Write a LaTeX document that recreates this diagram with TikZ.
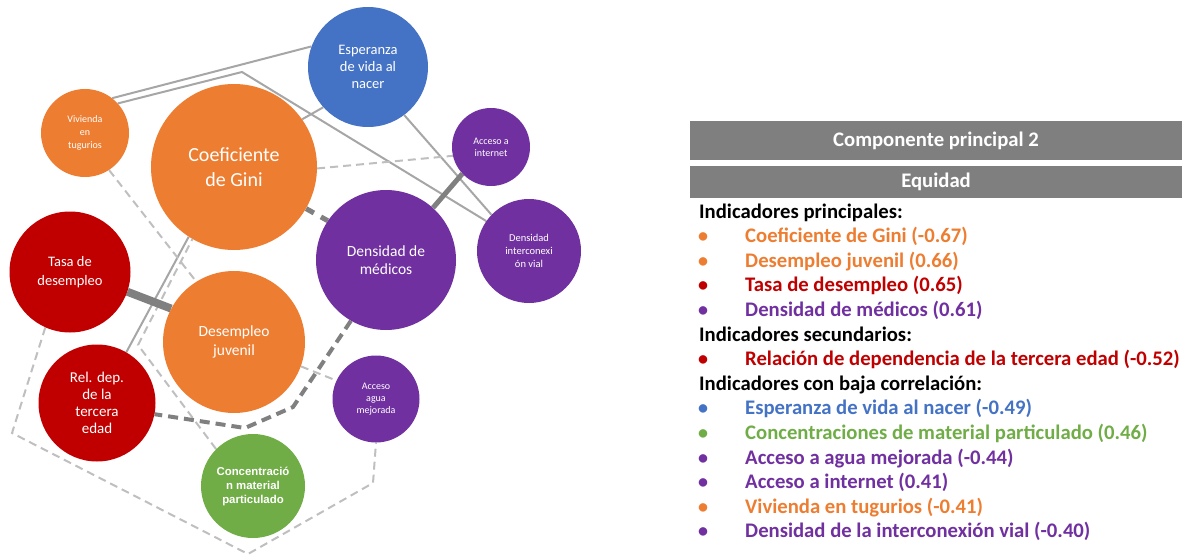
\documentclass[tikz,border=0pt]{standalone}
\usepackage{fontspec}
\setmainfont{Carlito}
\newfontfamily\arialfont{Liberation Sans}
\usetikzlibrary{backgrounds}
\definecolor{corange}{HTML}{ED7D31}
\definecolor{cblue}{HTML}{4472C4}
\definecolor{cpurple}{HTML}{7030A0}
\definecolor{cred}{HTML}{C00000}
\definecolor{cgreen}{HTML}{70AD47}
\definecolor{lsolid}{HTML}{A6A6A6}
\definecolor{ldash}{HTML}{BFBFBF}
\definecolor{dgrey}{HTML}{808080}
\definecolor{hdrgrey}{HTML}{7F7F7F}
\begin{document}
\begin{tikzpicture}[x=1pt,y=-1pt,
  bub/.style={circle, inner sep=0pt, align=center, text=white, minimum size=#1},
  fs/.style 2 args={font=\fontsize{#1}{#2}\selectfont},
  thinsolid/.style={draw=lsolid, line width=2pt},
  thindash/.style={draw=ldash, line width=2pt, dash pattern=on 8pt off 5pt},
  thicksolid/.style={draw=dgrey, line width=#1},
  thickdash/.style={draw=dgrey, line width=#1, dash pattern=on 10pt off 6pt},
  hdr/.style={fill=hdrgrey, text=white, inner sep=0pt, minimum width=492pt, font=\fontsize{20.7}{24}\selectfont\bfseries},
  heading/.style={anchor=base west, inner sep=0pt, text=black, font=\fontsize{20.7}{24}\selectfont\bfseries},
  item/.style={anchor=base west, inner sep=0pt, text=#1, font=\fontsize{20.7}{24}\selectfont\bfseries},
  bull/.style={anchor=base, inner sep=0pt, text=#1, font=\fontsize{20}{24}\selectfont\bfseries}
]
\useasboundingbox (0,0) rectangle (1182,556);

% bubbles
\node[bub=120pt, fill=cblue, fs={14.5}{17}] (esp) at (368,67) {Esperanza\\de vida al\\nacer};
\node[bub=88pt, fill=corange, fs={10}{13}] (viv) at (85,133) {Vivienda\\en\\tugurios};
\node[bub=166pt, fill=corange, fs={20}{25}] (gini) at (234,167) {Coeficiente\\de Gini};
\node[bub=78pt, fill=cpurple, fs={10}{12}] (ai) at (491,147) {Acceso a\\internet};
\node[bub=140pt, fill=cpurple, fs={15.5}{18}] (dm) at (386,260) {Densidad de\\médicos};
\node[bub=104pt, fill=cpurple, fs={10.5}{13.3}] (div) at (529,251) {Densidad\\interconexi\\ón vial};
\node[bub=121pt, fill=cred, fs={14.5}{18.5}] (tasa) at (70,272) {Tasa de\\desempleo};
\node[bub=142pt, fill=corange, fs={15.5}{19}] (dj) at (234,342) {Desempleo\\juvenil};
\node[bub=117pt, fill=cred, fs={15}{17}] (rd) at (97,403) {Rel. dep.\\de la\\tercera\\edad};
\node[bub=87pt, fill=cpurple, fs={10}{12.3}] (aa) at (376,399) {Acceso\\agua\\mejorada};
\node[bub=104pt, fill=cgreen, font=\arialfont\bfseries\fontsize{11.4}{14}\selectfont] (conc) at (253,486) {Concentració\\n material\\particulado};

\coordinate (k1) at (242,72);
\coordinate (k2) at (293,407);
\coordinate (k3) at (245,428);
\coordinate (k4) at (12,433);
\coordinate (k5) at (248,554);
\coordinate (k6) at (373,483);
\coordinate (k7) at (138,345);

\begin{pgfonlayer}{background}
\draw[thinsolid] (viv.52) -- (esp.160);
\draw[thinsolid] (viv.42) -- (k1) -- (div.145);
\draw[thinsolid] (gini.35) -- (esp.222);
\draw[thinsolid] (esp.-53.5) -- (div.136);
\draw[thinsolid] (rd.60.5) -- (gini.237.8);
\draw[thindash] (gini.-1) -- (ai.193);
\draw[thindash] (viv.-57.3) -- (dj.122);
\draw[thindash] (dj.-20.7) -- (aa.155);
\draw[thindash] (conc.135) -- (k7) -- (gini.240.7);
\draw[thindash] (tasa.246.7) -- (k4) -- (k5) -- (k6) -- (aa.270);
\draw[thickdash=5pt, dash pattern=on 9pt off 8pt] (gini.-30.6) -- (dm.146.8);
\draw[thickdash=4pt] (dm.240) -- (k2) -- (k3) -- (rd.-11.3);
\draw[thicksolid=8pt] (tasa.-19) -- (dj.152.7);
\draw[thicksolid=5pt] (dm.48.4) -- (ai.223);
\end{pgfonlayer}

% right panel
\node[hdr, minimum height=39pt] (cp) at (936,140.5) {Componente principal 2};
\node[hdr, minimum height=32pt] (eq) at (936,182) {Equidad};

\node[heading] (h1) at (699,218) {Indicadores principales:};
\node[bull=corange] (b1) at (703,242.6) {•};
\node[item=corange] (t1) at (745,242.6) {Coeficiente de Gini (-0.67)};
\node[bull=corange] (b2) at (703,267.2) {•};
\node[item=corange] (t2) at (745,267.2) {Desempleo juvenil (0.66)};
\node[bull=cred] (b3) at (703,291.8) {•};
\node[item=cred] (t3) at (745,291.8) {Tasa de desempleo (0.65)};
\node[bull=cpurple] (b4) at (703,316.4) {•};
\node[item=cpurple] (t4) at (745,316.4) {Densidad de médicos (0.61)};
\node[heading] (h2) at (699,341) {Indicadores secundarios:};
\node[bull=cred] (b5) at (703,365.6) {•};
\node[item=cred] (t5) at (745,365.6) {Relación de dependencia de la tercera edad (-0.52)};
\node[heading] (h3) at (699,390.2) {Indicadores con baja correlación:};
\node[bull=cblue] (b6) at (703,414.8) {•};
\node[item=cblue] (t6) at (745,414.8) {Esperanza de vida al nacer (-0.49)};
\node[bull=cgreen] (b7) at (703,439.4) {•};
\node[item=cgreen] (t7) at (745,439.4) {Concentraciones de material particulado (0.46)};
\node[bull=cpurple] (b8) at (703,464) {•};
\node[item=cpurple] (t8) at (745,464) {Acceso a agua mejorada (-0.44)};
\node[bull=cpurple] (b9) at (703,488.6) {•};
\node[item=cpurple] (t9) at (745,488.6) {Acceso a internet (0.41)};
\node[bull=corange] (b10) at (703,513.2) {•};
\node[item=corange] (t10) at (745,513.2) {Vivienda en tugurios (-0.41)};
\node[bull=cpurple] (b11) at (703,537.8) {•};
\node[item=cpurple] (t11) at (745,537.8) {Densidad de la interconexión vial (-0.40)};
\end{tikzpicture}
\end{document}
